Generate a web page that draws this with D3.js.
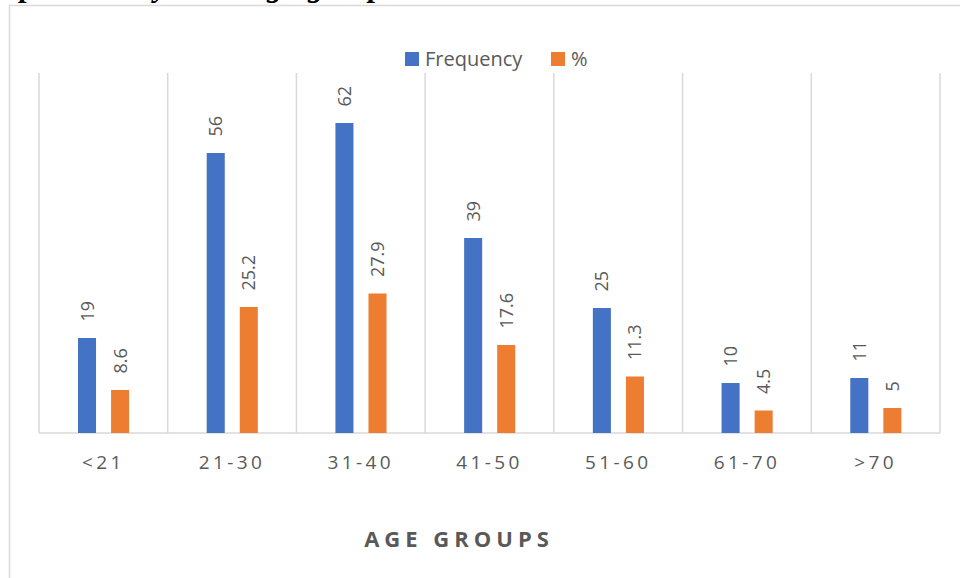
<!DOCTYPE html>
<html>
<head>
<meta charset="utf-8">
<script src="https://cdn.jsdelivr.net/npm/d3@7"></script>
<style>
  html, body { margin: 0; padding: 0; background: #fff; }
  svg { display: block; }
  text { font-family: "Open Sans", Lato, sans-serif; fill: #595959; }
</style>
</head>
<body>
<svg id="chart" width="960" height="578"></svg>
<script>
// Age groups and the two series plotted for each
const categories = ["<21", "21-30", "31-40", "41-50", "51-60", "61-70", ">70"];
const frequency  = [19, 56, 62, 39, 25, 10, 11];
const percent    = [8.6, 25.2, 27.9, 17.6, 11.3, 4.5, 5];
const seriesNames = ["Frequency", "%"];
const seriesColors = ["#4472C4", "#ED7D31"];
const axisTitle = "AGE GROUPS";
const caption = "Figure 1: Distribution of the study population by their age groups";

const svg = d3.select("#chart");
const W = 960, H = 578;
const plot = { left: 39, right: 940, top: 73, bottom: 433 };

// Figure caption running above the chart frame (the page is scrolled past most of it)
const cap = svg.append("text").attr("y", -4)
  .style("font-family", "'Liberation Serif', 'Times New Roman', serif")
  .style("font-weight", "bold").style("font-style", "italic")
  .style("font-size", "31px").style("word-spacing", "4px").style("fill", "#000")
  .text(caption);
{
  const node = cap.node();
  const i = caption.indexOf("population") + 2;   // second "p" of "population"
  const before = node.getSubStringLength(0, i);
  const pw = node.getSubStringLength(i, 1);
  cap.attr("x", 28 - before - pw / 2);
}

// Chart frame
svg.append("path")
  .attr("d", `M9.5,${H + 2} V5.5 H${W + 2}`)
  .attr("fill", "none").attr("stroke", "#d9d9d9").attr("stroke-width", 1.5);

const rows = categories.map((c, i) => ({ cat: c, values: [frequency[i], percent[i]] }));

const x0 = d3.scaleBand().domain(categories).range([plot.left, plot.right]).padding(0);
const bw = x0.bandwidth();
const x1 = d3.scaleBand().domain(seriesNames)
  .range([bw * 0.303, bw * 0.70]).paddingInner(0.4545).paddingOuter(0);
const y = d3.scaleLinear().domain([0, 72]).range([plot.bottom, plot.top]);

// Vertical category separators (gridlines)
const edges = categories.map(c => x0(c)).concat([plot.right]);
svg.append("g").selectAll("line").data(edges).join("line")
  .attr("x1", d => d).attr("x2", d => d)
  .attr("y1", plot.top).attr("y2", plot.bottom)
  .attr("stroke", "#d9d9d9").attr("stroke-width", 1.5);

// Baseline
svg.append("line")
  .attr("x1", plot.left).attr("x2", plot.right)
  .attr("y1", plot.bottom).attr("y2", plot.bottom)
  .attr("stroke", "#d9d9d9").attr("stroke-width", 1.5);

// Bars and their rotated value labels
const groups = svg.append("g").selectAll("g").data(rows).join("g")
  .attr("transform", d => `translate(${x0(d.cat)},0)`);

groups.selectAll("rect")
  .data(d => d.values.map((v, k) => ({ key: seriesNames[k], v, k })))
  .join("rect")
  .attr("x", d => x1(d.key))
  .attr("width", x1.bandwidth())
  .attr("y", d => y(d.v))
  .attr("height", d => plot.bottom - y(d.v))
  .attr("fill", d => seriesColors[d.k]);

groups.selectAll("text.val")
  .data(d => d.values.map((v, k) => ({ key: seriesNames[k], v, k })))
  .join("text").attr("class", "val")
  .attr("transform", d => `translate(${x1(d.key) + x1.bandwidth() / 2},${y(d.v) - 16.5}) rotate(-90)`)
  .attr("dy", "0.36em")
  .style("font-size", "18px")
  .text(d => d.v);

// Category axis labels
const xAxis = d3.axisBottom(x0).tickSize(0).tickPadding(0);
const gx = svg.append("g").attr("transform", `translate(0,${plot.bottom})`).call(xAxis);
gx.select(".domain").remove();
gx.selectAll("text")
  .attr("y", 36).attr("dy", 0)
  .style("font-family", "'Open Sans', Lato, sans-serif")
  .style("font-size", "19px")
  .style("letter-spacing", "3.4px")
  .style("fill", "#595959");

// Axis title
svg.append("text")
  .attr("x", 459).attr("y", 547)
  .attr("text-anchor", "middle")
  .style("font-size", "22px").style("font-weight", "bold")
  .style("letter-spacing", "5px")
  .text(axisTitle);

// Legend
const legendX = [405, 551];
const legend = svg.append("g").selectAll("g").data(seriesNames).join("g")
  .attr("transform", (d, i) => `translate(${legendX[i]},52)`);
legend.append("rect").attr("width", 14).attr("height", 14)
  .attr("fill", (d, i) => seriesColors[i]);
legend.append("text").attr("x", 20).attr("y", 14)
  .style("font-size", "20px")
  .text(d => d);
</script>
</body>
</html>
